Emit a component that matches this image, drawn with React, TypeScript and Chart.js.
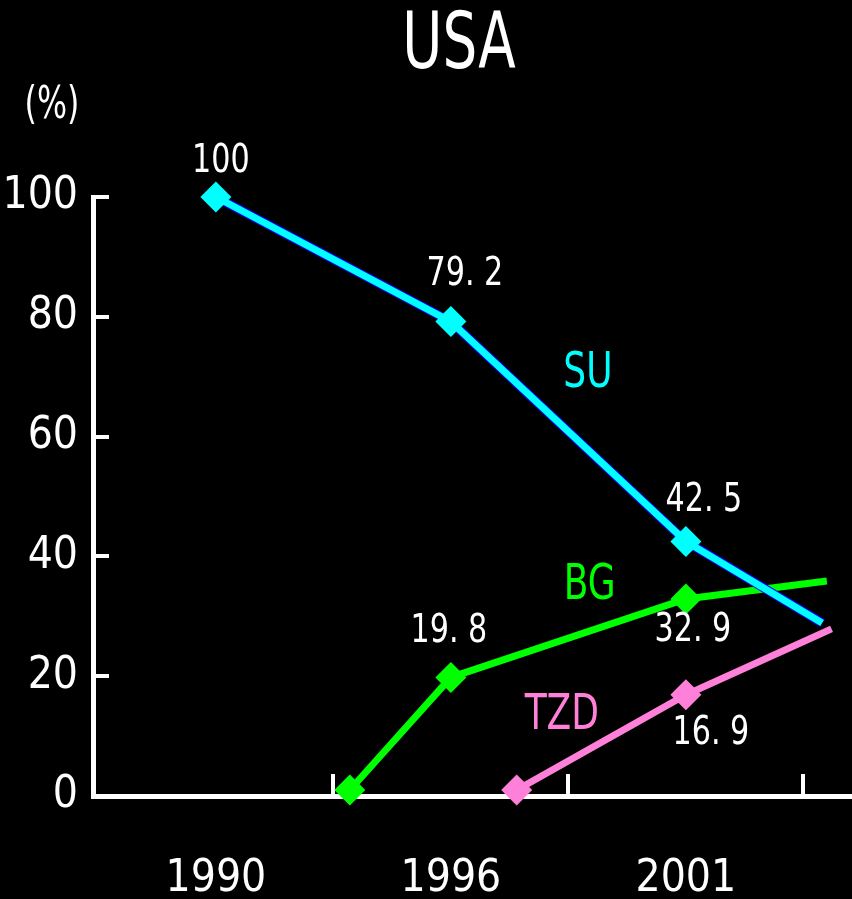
import React, { useEffect, useRef } from 'react';
import { Chart, registerables } from 'chart.js';

Chart.register(...registerables);

const FONT = "'Liberation Sans Narrow', 'DejaVu Sans Condensed', 'Noto Sans CJK JP', sans-serif";

const title = 'USA';
const unitLabel = '(%)';
const categories = ['1990', '1996', '2001'];
const yTickStep = 20;

// x positions in category units (0 = 1990, 1 = 1996, 2 = 2001)
const suX = [0, 1, 2, 2.58];
const suY = [100, 79.2, 42.5, 28.9];
const bgX = [0.57, 1, 2, 2.6];
const bgY = [1.0, 19.8, 32.9, 35.9];
const tzdX = [1.28, 2, 2.62];
const tzdY = [1.0, 16.9, 27.9];

const seriesNames = ['SU', 'BG', 'TZD'];
const seriesColors = ['#00ffff', '#00ff00', '#ff80d8'];

// which points carry a value label: [series, point, dx, dy]
const valueLabelSpots: [number, number, number, number][] = [
  [0, 0, 5, -35],
  [0, 1, 14, -47],
  [0, 2, 18, -41],
  [1, 1, -2, -46],
  [1, 2, 7, 32],
  [2, 1, 25, 39],
];

// series name labels, placed in data units
const nameLabelX = [1.583, 1.591, 1.472];
const nameLabelY = [70.4, 35.0, 13.3];

const fmt = (v: number) =>
  Number.isInteger(v) ? String(v) : v.toFixed(1).replace('.', '. ');

function drawText(ctx: CanvasRenderingContext2D, text: string, x: number, y: number, sx: number) {
  ctx.save();
  ctx.translate(x, y);
  ctx.scale(sx, 1);
  ctx.fillText(text, 0, 0);
  ctx.restore();
}

const overlayPlugin = {
  id: 'overlay',
  beforeDatasetDraw(chart: any, args: any) {
    if (args.index !== 0) return;
    const line = args.meta.dataset;
    const orig = line.options;
    line.options = Object.assign({}, orig, {
      borderColor: '#0000ff',
      borderWidth: orig.borderWidth + 2,
    });
    line.draw(chart.ctx, chart.chartArea);
    line.options = orig;
  },
  afterDraw(chart: any) {
    const ctx = chart.ctx;
    const xs = chart.scales.x;
    const ys = chart.scales.y;
    ctx.save();
    ctx.textAlign = 'center';
    ctx.textBaseline = 'middle';

    ctx.fillStyle = '#ffffff';
    ctx.font = `78px ${FONT}`;
    drawText(ctx, title, 459, 48, 0.78);

    ctx.font = `44px ${FONT}`;
    drawText(ctx, unitLabel, 52, 107, 0.8);

    ctx.font = `39px ${FONT}`;
    valueLabelSpots.forEach(([ds, i, dx, dy]) => {
      const pt = chart.data.datasets[ds].data[i];
      const px = xs.getPixelForValue(pt.x);
      const py = ys.getPixelForValue(pt.y);
      drawText(ctx, fmt(pt.y), px + dx, py + dy, 0.86);
    });

    ctx.font = `50px ${FONT}`;
    seriesNames.forEach((n, k) => {
      ctx.fillStyle = seriesColors[k];
      drawText(ctx, n, xs.getPixelForValue(nameLabelX[k]), ys.getPixelForValue(nameLabelY[k]), 0.8);
    });
    ctx.restore();
  },
};

function makeDataset(label: string, xs: number[], ys: number[], color: string) {
  return {
    label,
    data: xs.map((x, i) => ({ x, y: ys[i] })),
    borderColor: color,
    backgroundColor: color,
    borderWidth: 7,
    pointStyle: 'rectRot',
    pointRadius: (c: any) => (c.dataIndex === xs.length - 1 ? 0 : 15.5),
    pointHoverRadius: (c: any) => (c.dataIndex === xs.length - 1 ? 0 : 15.5),
    pointBorderWidth: 0,
    tension: 0,
    clip: false,
  };
}

export default function App() {
  const ref = useRef<HTMLCanvasElement | null>(null);
  useEffect(() => {
    document.body.style.margin = '0';
    document.body.style.background = '#000';
    Chart.defaults.font.family = FONT;
    const chart = new Chart(ref.current as HTMLCanvasElement, {
      type: 'line',
      data: {
        datasets: [
          makeDataset(seriesNames[0], suX, suY, seriesColors[0]),
          makeDataset(seriesNames[1], bgX, bgY, seriesColors[1]),
          makeDataset(seriesNames[2], tzdX, tzdY, seriesColors[2]),
        ] as any,
      },
      options: {
        responsive: false,
        maintainAspectRatio: false,
        animation: false,
        events: [],
        layout: { autoPadding: false, padding: { top: 197, left: 0, right: 0, bottom: 0 } },
        plugins: {
          legend: { display: false },
          tooltip: { enabled: false },
          title: { display: false },
        },
        scales: {
          x: {
            type: 'linear',
            min: -0.523,
            max: 2.707,
            afterBuildTicks: (s: any) => {
              s.ticks = categories.map((_, i) => ({ value: i }));
            },
            afterFit: (s: any) => {
              s.height = 103;
              s.paddingLeft = 0;
              s.paddingRight = 0;
            },
            ticks: {
              callback: (v: any) => categories[v] ?? '',
              color: '#ffffff',
              font: { size: 44 },
              padding: 79,
              maxRotation: 0,
              autoSkip: false,
            },
            grid: {
              offset: true,
              drawOnChartArea: false,
              drawTicks: true,
              tickLength: -22,
              lineWidth: 4,
              color: (c: any) => (c.index === 0 ? 'rgba(0,0,0,0)' : '#ffffff'),
            },
            border: { color: '#ffffff', width: 5 },
          },
          y: {
            type: 'linear',
            min: 0,
            max: 100,
            afterFit: (s: any) => {
              s.width = 93;
            },
            ticks: {
              stepSize: yTickStep,
              color: '#ffffff',
              font: { size: 44 },
              padding: 31,
            },
            grid: {
              drawOnChartArea: false,
              drawTicks: true,
              tickLength: -16,
              lineWidth: 4,
              color: '#ffffff',
            },
            border: { color: '#ffffff', width: 5 },
          },
        } as any,
      },
      plugins: [overlayPlugin],
    });
    return () => chart.destroy();
  }, []);
  return (
    <canvas
      ref={ref}
      width={852}
      height={899}
      style={{ display: 'block', width: 852, height: 899 }}
    />
  );
}
